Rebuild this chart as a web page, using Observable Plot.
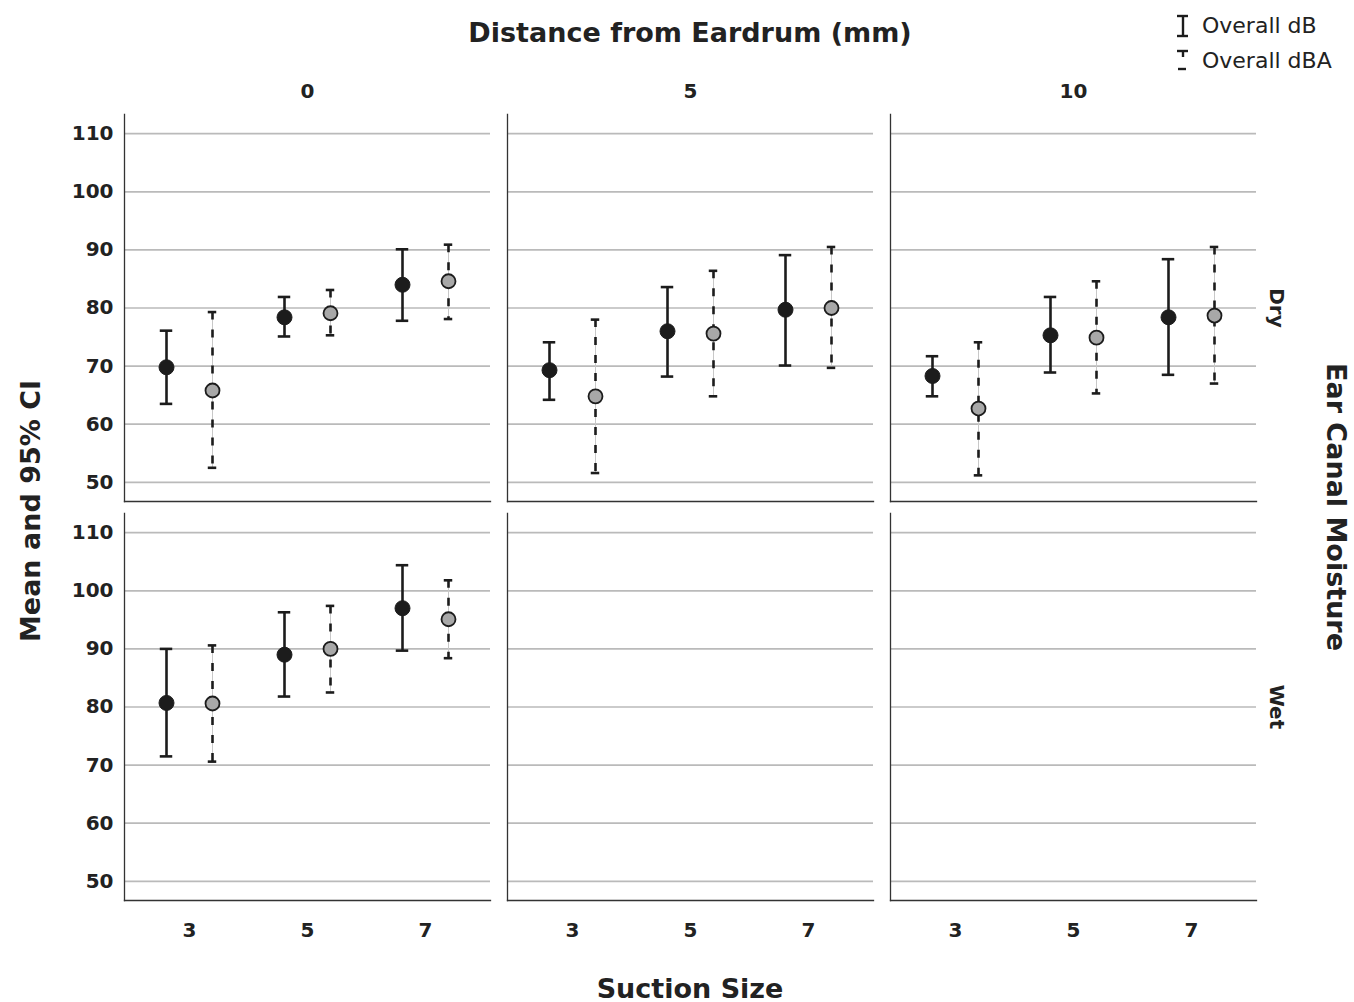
<!DOCTYPE html>
<html>
<head>
<meta charset="utf-8">
<script src="https://cdn.jsdelivr.net/npm/d3@7"></script>
<script src="https://cdn.jsdelivr.net/npm/@observablehq/plot@0.6"></script>
<style>
  html, body { margin: 0; padding: 0; background: #fff; }
  #wrap { position: relative; width: 1354px; height: 1002px; overflow: hidden; font-family: "DejaVu Sans", sans-serif; color: #222; }
  #wrap > svg { position: absolute; left: 0; top: 0; }
  .t { position: absolute; white-space: nowrap; font-weight: bold; font-size: 27px; line-height: 27px; }
  .legend { position: absolute; left: 1172px; top: 8px; font-size: 22px; line-height: 22px; color: #222; }
  .legend .row { display: flex; align-items: center; height: 35px; }
  .legend svg { width: 22px; height: 30px; margin-right: 8px; }
</style>
</head>
<body>
<div id="wrap"></div>
<script>
// ---- categories ----
const distances = [0, 5, 10];            // Distance from Eardrum (mm)
const moistures = ["Dry", "Wet"];         // Ear Canal Moisture
const suctionSizes = [3, 5, 7];           // Suction Size
const measures = ["Overall dB", "Overall dBA"];
const yTicks = [50, 60, 70, 80, 90, 100, 110];

// ---- values: order = moisture (Dry, Wet) x distance (0, 5, 10) x suction (3, 5, 7) ----
const dBMean  = [69.8, 78.4, 84.0,  69.3, 76.0, 79.7,  68.3, 75.3, 78.4,
                 80.7, 89.0, 97.0,  null, null, null,  null, null, null];
const dBLow   = [63.5, 75.1, 77.8,  64.2, 68.2, 70.1,  64.8, 68.9, 68.5,
                 71.5, 81.8, 89.7,  null, null, null,  null, null, null];
const dBHigh  = [76.1, 81.9, 90.1,  74.1, 83.6, 89.1,  71.7, 81.9, 88.4,
                 90.0, 96.3, 104.4, null, null, null,  null, null, null];
const dBAMean = [65.8, 79.1, 84.6,  64.8, 75.6, 80.0,  62.7, 74.9, 78.7,
                 80.6, 90.0, 95.1,  null, null, null,  null, null, null];
const dBALow  = [52.5, 75.3, 78.1,  51.6, 64.8, 69.7,  51.2, 65.3, 67.0,
                 70.6, 82.5, 88.4,  null, null, null,  null, null, null];
const dBAHigh = [79.3, 83.1, 90.9,  78.0, 86.4, 90.5,  74.1, 84.6, 90.5,
                 90.6, 97.4, 101.8, null, null, null,  null, null, null];

// ---- build tables ----
const dBRows = [], dBARows = [];
let k = 0;
for (const m of moistures) for (const d of distances) for (const s of suctionSizes) {
  dBRows.push({moisture: m, distance: d, suction: s, measure: measures[0], mean: dBMean[k], low: dBLow[k], high: dBHigh[k]});
  dBARows.push({moisture: m, distance: d, suction: s, measure: measures[1], mean: dBAMean[k], low: dBALow[k], high: dBAHigh[k]});
  k++;
}

// ---- layout ----
const W = 1354, H = 1002;
const mL = 124, mR = 98, mT = 114, mB = 102;
const panelW = 366, gapX = 17, panelH = 387, gapY = 12;
const xPadOuter = 0.044;
const xStep = panelW / (suctionSizes.length + 2 * xPadOuter);
const capInset = w => (xStep - w) / 2;
const off = 23;
const ink = "#1c1c1c";
const tickFont = 20;

const facetOpts = {fx: "distance", fy: "moisture", x: "suction"};

const chart = Plot.plot({
  width: W, height: H,
  marginLeft: mL, marginRight: mR, marginTop: mT, marginBottom: mB,
  style: {fontFamily: "DejaVu Sans, sans-serif", fontWeight: "bold", fontSize: tickFont + "px", color: "#222", background: "transparent", overflow: "visible"},
  fx: {domain: distances, paddingInner: gapX / (panelW + gapX), paddingOuter: 0, axis: null},
  fy: {domain: moistures, paddingInner: gapY / (panelH + gapY), paddingOuter: 0, axis: null},
  x: {type: "band", domain: suctionSizes, paddingInner: 0, paddingOuter: xPadOuter, axis: null},
  y: {domain: [46.7, 113.3], axis: null},
  marks: [
    Plot.gridY(yTicks, {stroke: "#bababa", strokeOpacity: 1, strokeWidth: 1.7}),
    Plot.frame({anchor: "left", stroke: "#333", strokeWidth: 1.3}),
    Plot.frame({anchor: "bottom", stroke: "#333", strokeWidth: 1.3}),
    Plot.axisY(yTicks, {anchor: "left", tickSize: 0, tickPadding: 11, label: null, fill: "#222", fontSize: tickFont}),
    Plot.axisX({anchor: "bottom", tickSize: 0, tickPadding: 22, label: null, fill: "#222", fontSize: tickFont}),
    Plot.axisFx({anchor: "top", tickSize: 0, tickPadding: 17, label: null, fill: "#222", fontSize: tickFont}),
    Plot.axisFy({anchor: "right", tickSize: 0, tickPadding: 28, tickRotate: 90, label: null, fill: "#222", fontSize: tickFont}),

    // Overall dB : solid error bars
    Plot.ruleX(dBRows, {...facetOpts, y1: "low", y2: "high", dx: -off, stroke: ink, strokeWidth: 2.6}),
    Plot.tickY(dBRows, {...facetOpts, y: "low", dx: -off, insetLeft: capInset(13), insetRight: capInset(13), stroke: ink, strokeWidth: 2.6}),
    Plot.tickY(dBRows, {...facetOpts, y: "high", dx: -off, insetLeft: capInset(13), insetRight: capInset(13), stroke: ink, strokeWidth: 2.6}),
    Plot.dot(dBRows, {...facetOpts, y: "mean", dx: -off, r: 7.5, fill: ink, stroke: ink, strokeWidth: 1}),

    // Overall dBA : dashed error bars over a thin grey line
    Plot.ruleX(dBARows, {...facetOpts, y1: "high", y2: "low", dx: off, stroke: "#c8c8c8", strokeWidth: 1}),
    Plot.ruleX(dBARows, {...facetOpts, y1: "high", y2: "low", dx: off, stroke: ink, strokeWidth: 2.6, strokeDasharray: "8,10"}),
    Plot.tickY(dBARows, {...facetOpts, y: "low", dx: off, insetLeft: capInset(9), insetRight: capInset(9), stroke: ink, strokeWidth: 2.6}),
    Plot.tickY(dBARows, {...facetOpts, y: "high", dx: off, insetLeft: capInset(9), insetRight: capInset(9), stroke: ink, strokeWidth: 2.6}),
    Plot.dot(dBARows, {...facetOpts, y: "mean", dx: off, r: 7, fill: "#a8a8a8", stroke: ink, strokeWidth: 1.8})
  ]
});

const wrap = document.getElementById("wrap");
wrap.appendChild(chart);

function addText(txt, cx, cy, rot) {
  const el = document.createElement("div");
  el.className = "t";
  el.textContent = txt;
  el.style.left = cx + "px";
  el.style.top = cy + "px";
  el.style.transform = `translate(-50%, -50%)` + (rot ? ` rotate(${rot}deg)` : "");
  wrap.appendChild(el);
}
addText("Distance from Eardrum (mm)", 690, 32, 0);
addText("Suction Size", 690, 988, 0);
addText("Mean and 95% CI", 30, 511, -90);
addText("Ear Canal Moisture", 1336, 507, 90);

// legend
const legend = document.createElement("div");
legend.className = "legend";
legend.innerHTML = `
  <div class="row"><svg viewBox="0 0 22 30"><g stroke="${ink}" stroke-width="2.4" fill="none">
    <line x1="11" y1="5" x2="11" y2="25"/><line x1="5" y1="5" x2="16" y2="5"/><line x1="5" y1="25" x2="16" y2="25"/></g></svg>
    <span>${measures[0]}</span></div>
  <div class="row"><svg viewBox="0 0 22 30"><g stroke="${ink}" stroke-width="2.4" fill="none">
    <line x1="11" y1="5" x2="11" y2="11"/><line x1="5" y1="5" x2="16" y2="5"/><line x1="6" y1="23" x2="14" y2="23"/></g></svg>
    <span>${measures[1]}</span></div>`;
wrap.appendChild(legend);
</script>
</body>
</html>
